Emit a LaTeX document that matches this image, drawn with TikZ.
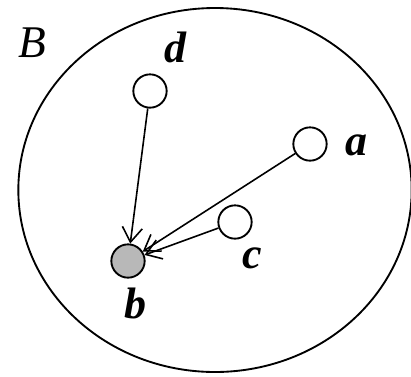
\documentclass[tikz,border=0pt]{standalone}
\usepackage{fontspec}
\setmainfont{Liberation Serif}
\usetikzlibrary{arrows.meta,shapes.geometric}

\begin{document}
\begin{tikzpicture}[
  x=0.75pt,y=-0.75pt,
  region/.style={ellipse,draw,line width=1.4pt,minimum width=295pt,minimum height=273pt,inner sep=0pt},
  vertex/.style={circle,draw,line width=1.4pt,minimum size=25pt,inner sep=0pt},
  arrow/.style={-{Straight Barb[length=11pt,width=15pt,line width=1.2pt]},line width=1.2pt},
  lbl/.style={font=\fontsize{33}{36}\selectfont\bfseries\itshape,inner sep=0pt}
]
\useasboundingbox (0,0) rectangle (411,376);
\node[region] (set) at (215,190) {};
\node[font=\fontsize{34}{36}\selectfont\itshape,inner sep=0pt] (setname) at (32,43) {B};
% points
\node[vertex] (d) at (150,91) {};
\node[vertex] (a) at (310,144) {};
\node[vertex] (c) at (235,222) {};
\node[vertex,fill=black!28] (b) at (128,261) {};
\node[lbl] (dname) at (175,47) {d};
\node[lbl] (aname) at (356,145) {a};
\node[lbl] (cname) at (252,258) {c};
\node[lbl] (bname) at (135,303) {b};
% edges into b
\draw[arrow] (d) -- (b);
\draw[arrow] (a) -- (b);
\draw[arrow] (c) -- (b);
\end{tikzpicture}
\end{document}
